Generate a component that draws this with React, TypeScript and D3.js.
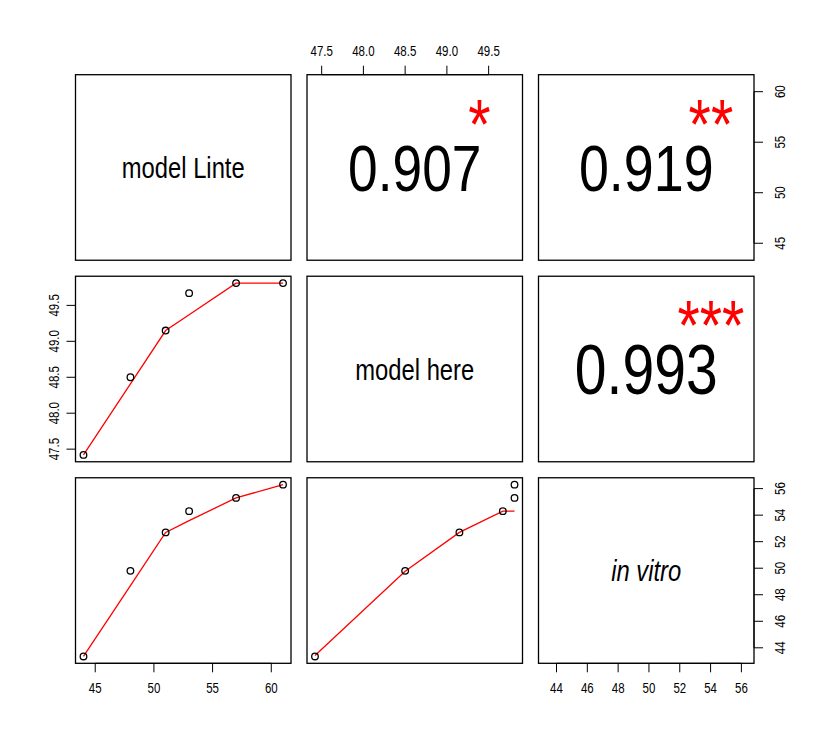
import React from 'react';
import * as d3 from 'd3';

// variables (diagonal labels) and their observations
const varNames = ['model Linte', 'model here', 'in vitro'];
const modelLinte = [44, 48, 51, 53, 57, 61];
const modelHere = [47.42, 48.5, 49.15, 49.67, 49.81, 49.81];
const inVitro = [43.35, 49.8, 52.7, 54.3, 55.3, 56.3];

// tick labels
const linteTicks = [45, 50, 55, 60];
const hereTicks = [47.5, 48.0, 48.5, 49.0, 49.5];
const vitroTicks = [44, 46, 48, 50, 52, 54, 56];

// upper panels: correlation and significance stars
const corCells = [[0, 1], [0, 2], [1, 2]];
const corValues = [0.907, 0.919, 0.993];
const corStars = ['*', '**', '***'];

const W = 830;
const H = 740;
const left = 75.5, right = 754, top = 74.7, bottom = 663.3, gap = 16;
const pw = (right - left - 2 * gap) / 3;
const ph = (bottom - top - 2 * gap) / 3;
const colX = (j: number) => left + j * (pw + gap);
const rowY = (i: number) => top + i * (ph + gap);

const FONT = 'Liberation Sans, Arial, Helvetica, sans-serif';
const NARROW = 0.82; // R's device font is narrow
const tickFs = 14;
const tickLen = 9;

// R's lowess (clowess port)
function lowess(xIn: number[], yIn: number[], f = 2 / 3, nsteps = 3): [number, number][] {
  const idx = xIn.map((_, i) => i).sort((a, b) => xIn[a] - xIn[b] || a - b);
  const x = idx.map(i => xIn[i]);
  const y = idx.map(i => yIn[i]);
  const n = x.length;
  const delta = 0.01 * (x[n - 1] - x[0]);
  const ys = new Array(n).fill(0);
  const rw = new Array(n).fill(0);
  const res = new Array(n).fill(0);
  const ns = Math.max(2, Math.min(n, Math.floor(f * n + 1e-7)));
  const range = x[n - 1] - x[0];

  const lowest = (xs: number, nleft: number, nright: number, userw: boolean): number | null => {
    const h = Math.max(xs - x[nleft], x[nright] - xs);
    const h9 = 0.999 * h, h1 = 0.001 * h;
    let a = 0;
    let j = nleft;
    while (j < n) {
      res[j] = 0;
      const r = Math.abs(x[j] - xs);
      if (r <= h9) {
        res[j] = r <= h1 ? 1 : Math.pow(1 - Math.pow(r / h, 3), 3);
        if (userw) res[j] *= rw[j];
        a += res[j];
      } else if (x[j] > xs) break;
      j++;
    }
    const nrt = j - 1;
    if (a <= 0) return null;
    for (let k = nleft; k <= nrt; k++) res[k] /= a;
    if (h > 0) {
      let m = 0;
      for (let k = nleft; k <= nrt; k++) m += res[k] * x[k];
      let b = xs - m;
      let c = 0;
      for (let k = nleft; k <= nrt; k++) c += res[k] * (x[k] - m) * (x[k] - m);
      if (Math.sqrt(c) > 0.001 * range) {
        b /= c;
        for (let k = nleft; k <= nrt; k++) res[k] *= b * (x[k] - m) + 1;
      }
    }
    let out = 0;
    for (let k = nleft; k <= nrt; k++) out += res[k] * y[k];
    return out;
  };

  for (let iter = 1; iter <= nsteps + 1; iter++) {
    let nleft = 0, nright = ns - 1, last = -1, i = 0;
    for (;;) {
      if (nright < n - 1) {
        const d1 = x[i] - x[nleft];
        const d2 = x[nright + 1] - x[i];
        if (d1 > d2) { nleft++; nright++; continue; }
      }
      const v = lowest(x[i], nleft, nright, iter > 1);
      ys[i] = v === null ? y[i] : v;
      if (last < i - 1) {
        const denom = x[i] - x[last];
        for (let j = last + 1; j < i; j++) {
          const alpha = (x[j] - x[last]) / denom;
          ys[j] = alpha * ys[i] + (1 - alpha) * ys[last];
        }
      }
      last = i;
      const cut = x[last] + delta;
      for (i = last + 1; i < n; i++) {
        if (x[i] > cut) break;
        if (x[i] === x[last]) { ys[i] = ys[last]; last = i; }
      }
      i = Math.max(last + 1, i - 1);
      if (last >= n - 1) break;
    }
    for (let k = 0; k < n; k++) res[k] = y[k] - ys[k];
    let sc = 0;
    for (let k = 0; k < n; k++) sc += Math.abs(res[k]);
    sc /= n;
    if (iter > nsteps) break;
    const sorted = res.map(Math.abs).sort((a, b) => a - b);
    const m1 = Math.floor(n / 2);
    let cmad;
    if (n % 2 === 0) cmad = 3 * (sorted[m1] + sorted[n - m1 - 1]);
    else cmad = 6 * sorted[m1];
    if (cmad < 1e-7 * sc) break;
    const c9 = 0.999 * cmad, c1 = 0.001 * cmad;
    for (let k = 0; k < n; k++) {
      const r = Math.abs(res[k]);
      rw[k] = r <= c1 ? 1 : r <= c9 ? Math.pow(1 - Math.pow(r / cmad, 2), 2) : 0;
    }
  }
  return x.map((xv, k) => [xv, ys[k]]);
}

// R style axis range (4% padding)
const padExtent = (v: number[]): [number, number] => {
  const [a, b] = d3.extent(v) as [number, number];
  const d = (b - a) * 0.04;
  return [a - d, b + d];
};

const vars = [modelLinte, modelHere, inVitro];
const xScale = (k: number) =>
  d3.scaleLinear().domain(padExtent(vars[k])).range([colX(k), colX(k) + pw]);
const yScale = (k: number) =>
  d3.scaleLinear().domain(padExtent(vars[k])).range([rowY(k) + ph, rowY(k)]);

const Txt = ({ x, y, rot = 0, fs, children, anchor = 'middle', fill = '#000', italic = false }: any) => (
  <text
    transform={`translate(${x},${y}) rotate(${rot}) scale(${NARROW},1)`}
    fontSize={fs}
    fontFamily={FONT}
    fontStyle={italic ? 'italic' : 'normal'}
    textAnchor={anchor}
    fill={fill}
  >
    {children}
  </text>
);

type Side = 'top' | 'bottom' | 'left' | 'right';

const Axis = ({ scale, ticks, side, fmt, labelOff }: any) => {
  const s = side as Side;
  const horiz = s === 'top' || s === 'bottom';
  const pos = s === 'top' ? top : s === 'bottom' ? bottom : s === 'left' ? left : right;
  const dir = s === 'top' || s === 'left' ? -1 : 1;
  const p0 = scale(ticks[0]);
  const p1 = scale(ticks[ticks.length - 1]);
  return (
    <g stroke="#000" strokeWidth={1}>
      {horiz ? (
        <line x1={p0} x2={p1} y1={pos} y2={pos} />
      ) : (
        <line y1={p0} y2={p1} x1={pos} x2={pos} />
      )}
      {ticks.map((t: number) => {
        const p = scale(t);
        return horiz ? (
          <g key={t}>
            <line x1={p} x2={p} y1={pos} y2={pos + dir * tickLen} />
            <g stroke="none">
              <Txt x={p} y={pos + dir * labelOff + 0.358 * tickFs} fs={tickFs}>{fmt(t)}</Txt>
            </g>
          </g>
        ) : (
          <g key={t}>
            <line y1={p} y2={p} x1={pos} x2={pos + dir * tickLen} />
            <g stroke="none">
              <Txt x={pos + dir * labelOff + 0.358 * tickFs} y={p} rot={-90} fs={tickFs}>{fmt(t)}</Txt>
            </g>
          </g>
        );
      })}
    </g>
  );
};

const corBase = 70; // font size of cex.cor

export default function App() {
  const lower: [number, number][] = [[1, 0], [2, 0], [2, 1]];
  const intFmt = d3.format('d');
  const decFmt = d3.format('.1f');

  return (
    <svg width={W} height={H} style={{ position: 'absolute', left: 0, top: 0, background: '#fff' }}>
      <rect width={W} height={H} fill="#fff" />

      {/* diagonal labels */}
      {varNames.map((name, k) => (
        <Txt
          key={name}
          x={colX(k) + pw / 2}
          y={rowY(k) + ph / 2 + 0.365 * 29}
          fs={29}
          italic={k === 2}
        >
          {name}
        </Txt>
      ))}

      {/* lower panels: scatter + lowess */}
      {lower.map(([i, j]) => {
        const xs = xScale(j);
        const ys = yScale(i);
        const sm = lowess(vars[j], vars[i]);
        const line = d3.line<[number, number]>().x(d => xs(d[0])).y(d => ys(d[1]));
        return (
          <g key={`${i}-${j}`}>
            <path d={line(sm) || ''} fill="none" stroke="#ff0000" strokeWidth={1.3} />
            {vars[j].map((v, k) => (
              <circle key={k} cx={xs(v)} cy={ys(vars[i][k])} r={3.3} fill="none" stroke="#000" strokeWidth={1.3} />
            ))}
          </g>
        );
      })}

      {/* upper panels: correlation text and stars */}
      {corCells.map(([i, j], k) => {
        const r = corValues[k];
        const fs = corBase * (Math.abs(r) + 0.3) / 1.3;
        const cx = colX(j) + pw / 2;
        const cy = rowY(i) + ph / 2;
        const sx = colX(j) + 0.8 * pw;
        const sy = rowY(i) + 0.2 * ph;
        return (
          <g key={k}>
            <Txt x={cx} y={cy + 0.358 * fs} fs={fs}>{d3.format('.3f')(r)}</Txt>
            <Txt x={sx} y={sy + 0.53 * corBase} fs={corBase} fill="#ff0000">{corStars[k]}</Txt>
          </g>
        );
      })}

      {/* panel boxes */}
      {[0, 1, 2].map(i =>
        [0, 1, 2].map(j => (
          <rect key={`b${i}${j}`} x={colX(j)} y={rowY(i)} width={pw} height={ph} fill="none" stroke="#000" strokeWidth={1.3} />
        ))
      )}

      {/* axes */}
      <Axis scale={xScale(0)} ticks={linteTicks} side="bottom" fmt={intFmt} labelOff={25} />
      <Axis scale={xScale(1)} ticks={hereTicks} side="top" fmt={decFmt} labelOff={23.5} />
      <Axis scale={xScale(2)} ticks={vitroTicks} side="bottom" fmt={intFmt} labelOff={25} />
      <Axis scale={yScale(0)} ticks={linteTicks} side="right" fmt={intFmt} labelOff={25.5} />
      <Axis scale={yScale(1)} ticks={hereTicks} side="left" fmt={decFmt} labelOff={22} />
      <Axis scale={yScale(2)} ticks={vitroTicks} side="right" fmt={intFmt} labelOff={25.5} />
    </svg>
  );
}
